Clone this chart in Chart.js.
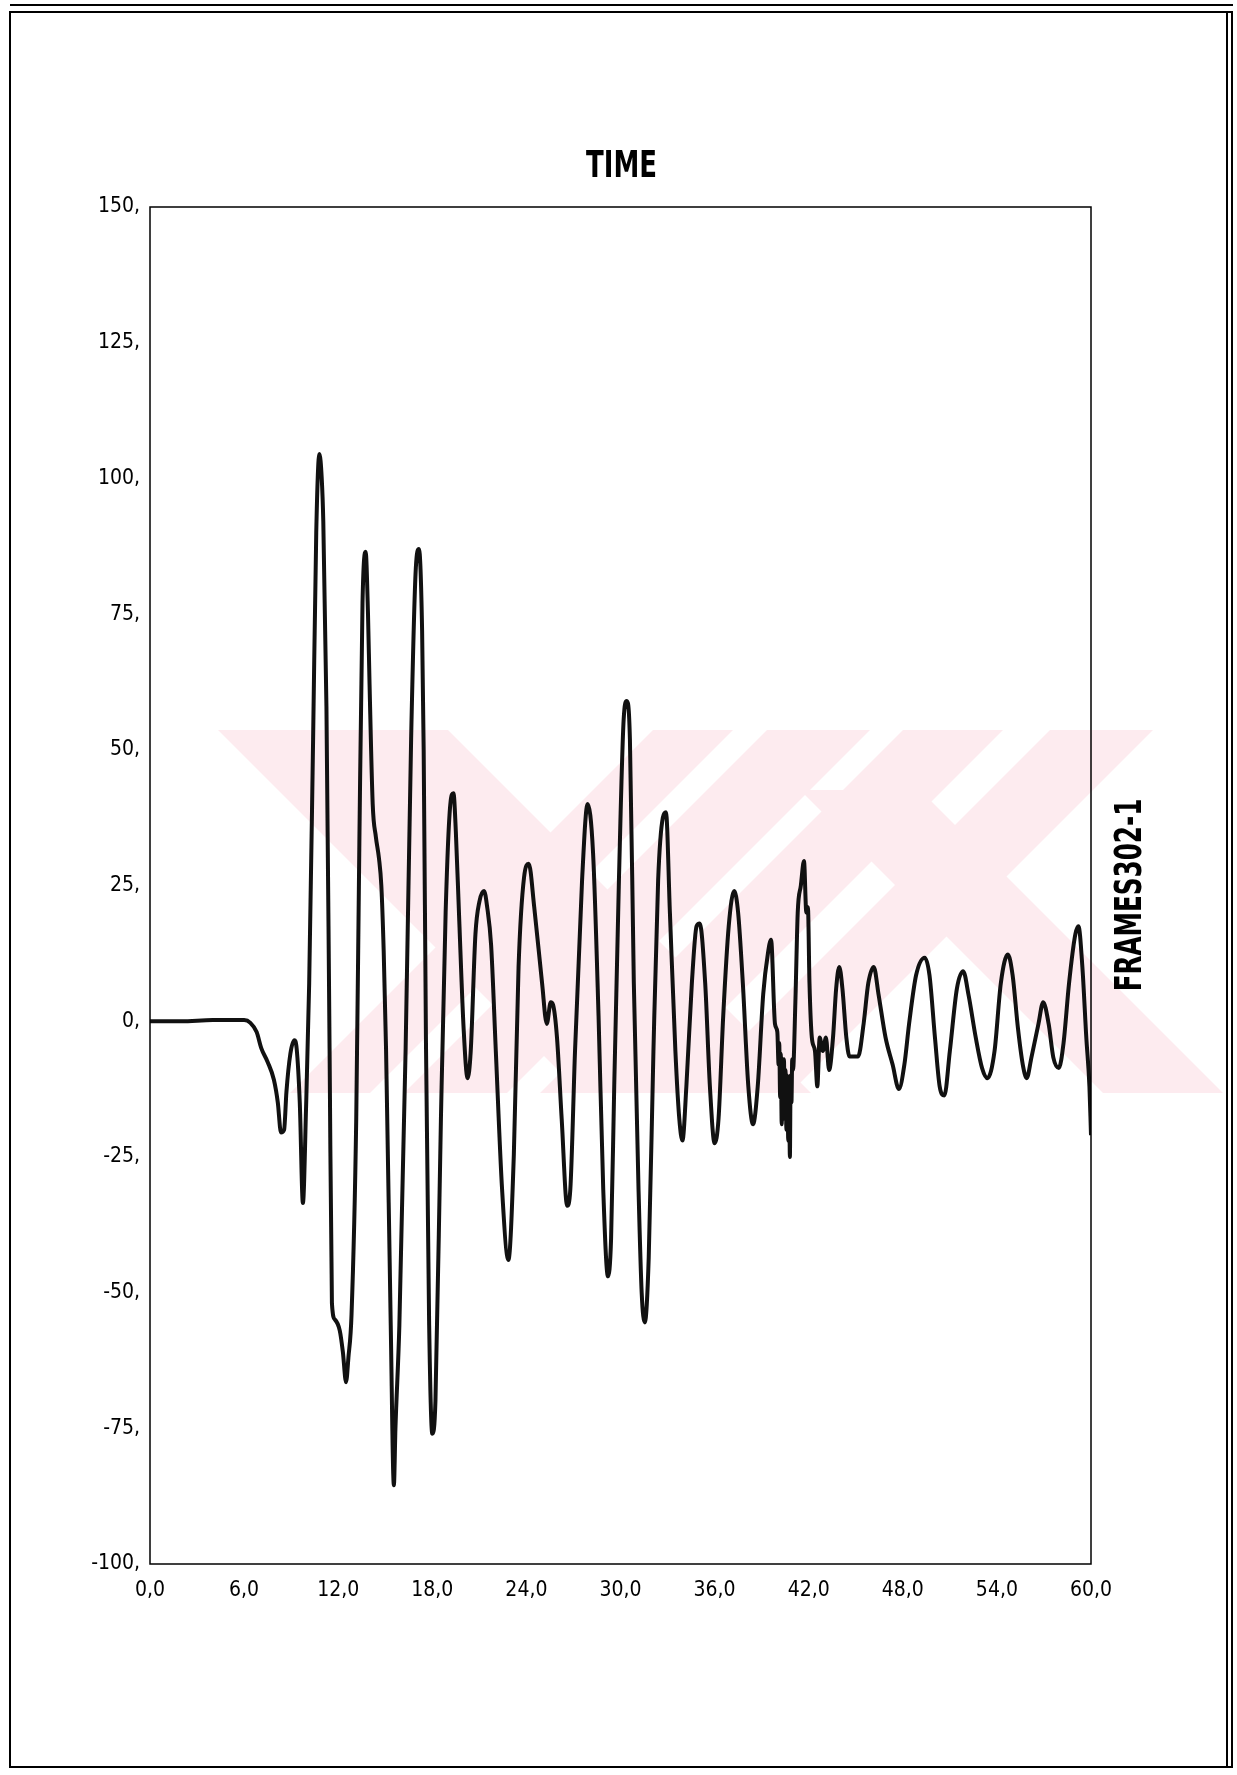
<!DOCTYPE html>
<html>
<head>
<meta charset="utf-8">
<script src="https://cdn.jsdelivr.net/npm/chart.js@4.4.0/dist/chart.umd.min.js"></script>
<style>
html,body{margin:0;padding:0;background:#fff;}
#wrap{position:relative;width:1237px;height:1775px;}
</style>
</head>
<body>
<div id="wrap"><canvas id="c"></canvas></div>
<script>
const chartTitle = 'TIME';
const seriesLabel = 'FRAMES302-1';

const timeValues = [
  0, 2, 4, 6.0, 6.4, 6.8, 7.1, 7.5, 7.9, 8.15,
  8.35, 8.55, 8.7, 8.95, 9.2, 9.35, 9.55, 9.75, 9.95, 10.15,
  10.4, 10.6, 10.8, 10.95, 11.05, 11.25, 11.45, 11.6, 11.8, 12.1,
  12.3, 12.5, 12.65, 12.85, 13.15, 13.35, 13.55, 13.75, 13.9, 14.0,
  14.2, 14.4, 14.6, 14.75, 14.9, 15.05, 15.35, 15.55, 15.65, 15.9,
  16.3, 16.65, 16.95, 17.15, 17.35, 17.45, 17.6, 17.8, 18.0, 18.2,
  18.55, 18.85, 19.15, 19.35, 19.5, 19.7, 20.0, 20.25, 20.45, 20.75,
  21.0, 21.3, 21.5, 21.75, 22.05, 22.45, 22.85, 23.2, 23.5, 23.85,
  24.15, 24.5, 25.0, 25.3, 25.55, 25.7, 25.95, 26.25, 26.6, 26.8,
  27.1, 27.55, 27.9, 28.25, 28.6, 28.9, 29.2, 29.4, 29.6, 29.9,
  30.2, 30.4, 30.6, 30.85, 31.15, 31.35, 31.55, 31.8, 32.1, 32.4,
  32.7, 32.9, 33.15, 33.5, 33.75, 33.95, 34.2, 34.55, 34.85, 35.05,
  35.4, 35.7, 36.0, 36.25, 36.55, 36.9, 37.25, 37.5, 37.8, 38.15,
  38.45, 38.75, 39.1, 39.4, 39.6, 39.85, 40.0, 40.08, 40.12, 40.18,
  40.22, 40.28, 40.32, 40.38, 40.42, 40.48, 40.52, 40.58, 40.62, 40.7,
  40.75, 40.8, 40.85, 40.9, 40.95, 41.0, 41.15, 41.3, 41.5, 41.7,
  41.85, 41.95, 42.05, 42.2, 42.4, 42.55, 42.7, 42.9, 43.1, 43.3,
  43.55, 43.75, 43.95, 44.15, 44.4, 44.6, 45.15, 45.5, 45.8, 46.15,
  46.45, 46.9, 47.35, 47.75, 48.1, 48.4, 48.85, 49.4, 49.7, 50.05,
  50.35, 50.65, 51.0, 51.45, 51.85, 52.2, 52.65, 53.05, 53.4, 53.85,
  54.25, 54.7, 55.0, 55.35, 55.65, 55.9, 56.2, 56.65, 56.95, 57.3,
  57.6, 57.95, 58.25, 58.6, 59.0, 59.2, 59.45, 59.7, 59.9, 60.0
];

const responseValues = [
  0, 0, 0.2, 0.2, -0.3, -2.0, -5.0, -7.5, -10.8, -15,
  -20.5, -20, -13, -6, -3.5, -5, -15, -33.5, -16, 7,
  52, 90, 104.5, 100, 92, 58, -5, -52, -55, -57,
  -61, -66.5, -62, -54, -18, 33, 77, 86.5, 75, 62,
  40, 34, 30, 25, 13, -5, -56, -85.5, -75, -56,
  -5, 52, 83.5, 87, 72, 50, -5, -56, -76, -70,
  -18, 20, 40, 42, 35, 20, -1.5, -10.5, -5.5, 16,
  22, 24, 21, 14, -5.5, -31, -44, -24.5, 10, 26.5,
  29, 21, 7, -0.5, 3.5, 3, -3, -18, -34, -31,
  -5.5, 26, 40, 31, 1, -31, -47, -40, -12, 26,
  55.5, 59, 52, 7, -31, -50, -55.5, -43.5, -5.5, 26,
  37.5, 38.5, 20, -5.5, -18, -22, -12, 7, 17.5, 18,
  7, -12, -22.5, -18, 1, 17.5, 24, 20, 7, -12,
  -19, -12, 5, 12.5, 15, -0.5, -2, -8, -4, -14,
  -6, -19, -8, -16, -7, -18, -9, -20, -10, -22,
  -12, -25, -10, -15, -7, -9, 3.5, 20, 25, 29.5,
  20, 21, 7, -3, -5.5, -12, -3, -5.5, -3, -9,
  -3, 6, 10, 6, -3, -6.5, -6.5, -0.5, 7, 10,
  5, -3, -8, -12.5, -8, -0.5, 8.5, 11.7, 8.5, -3,
  -12, -13.7, -5.5, 6, 9.2, 4.7, -3, -8.6, -10.5, -5.5,
  7, 12.3, 8.5, -1.5, -8, -10.5, -6.7, -0.5, 3.5, -0.5,
  -6.7, -8.6, -4, 7, 16, 17.5, 10, -3, -12, -21
];

const xTickValues = [0, 6, 12, 18, 24, 30, 36, 42, 48, 54, 60];
const xTickLabels = ['0,0', '6,0', '12,0', '18,0', '24,0', '30,0', '36,0', '42,0', '48,0', '54,0', '60,0'];
const yTickValues = [-100, -75, -50, -25, 0, 25, 50, 75, 100, 125, 150];
const yTickLabels = ['-100,', '-75,', '-50,', '-25,', '0,', '25,', '50,', '75,', '100,', '125,', '150,'];

const FONT = '"Liberation Sans Narrow", "DejaVu Sans Condensed", sans-serif';

const points = timeValues.map((t, i) => ({ x: t, y: responseValues[i] }));

const watermarkPlugin = {
  id: 'watermark',
  beforeDatasetsDraw(chart) {
    const ctx = chart.ctx;
    ctx.save();
    ctx.fillStyle = '#fdebef';
    const polys = [
      [[218, 730], [448, 730], [811, 1093], [581, 1093]],
      [[653, 730], [733, 730], [370, 1093], [290, 1093]],
      [[767, 730], [870, 730], [507, 1093], [404, 1093]],
      [[903, 730], [1003, 730], [640, 1093], [540, 1093]],
      [[1050, 730], [1153, 730], [790, 1093], [687, 1093]],
      [[800, 790], [920, 790], [1223, 1093], [1103, 1093]]
    ];
    polys.forEach(p => {
      ctx.beginPath();
      ctx.moveTo(p[0][0], p[0][1]);
      for (let i = 1; i < p.length; i++) ctx.lineTo(p[i][0], p[i][1]);
      ctx.closePath();
      ctx.fill();
    });
    ctx.restore();
  }
};

const framePlugin = {
  id: 'frame',
  afterDraw(chart) {
    const ctx = chart.ctx;
    const a = chart.chartArea;
    ctx.save();
    ctx.strokeStyle = '#000';
    ctx.lineWidth = 1.5;
    ctx.strokeRect(a.left, a.top, a.right - a.left, a.bottom - a.top);
    // page border
    ctx.lineWidth = 2;
    ctx.strokeRect(10, 12, 1222, 1755);
    ctx.beginPath();
    ctx.moveTo(10, 5); ctx.lineTo(1233, 5);
    ctx.moveTo(1227, 12); ctx.lineTo(1227, 1767);
    ctx.stroke();
    ctx.fillStyle = '#000';
    ctx.textAlign = 'center';
    ctx.textBaseline = 'middle';
    // title, condensed
    ctx.save();
    ctx.font = 'bold 38px ' + FONT;
    ctx.translate((a.left + a.right) / 2 + 1, 167);
    ctx.scale(0.76, 1);
    ctx.fillText(chartTitle, 0, 0);
    ctx.restore();
    // rotated series label, condensed
    ctx.save();
    ctx.font = 'bold 37px ' + FONT;
    ctx.translate(1131, 895);
    ctx.rotate(-Math.PI / 2);
    ctx.scale(0.74, 1);
    ctx.fillText(seriesLabel, 0, 0);
    ctx.restore();
    ctx.restore();
  }
};

new Chart(document.getElementById('c'), {
  type: 'line',
  data: {
    datasets: [{
      label: seriesLabel,
      data: points,
      borderColor: '#111',
      borderWidth: 4,
      pointRadius: 0,
      cubicInterpolationMode: 'monotone',
      fill: false
    }]
  },
  options: {
    responsive: true,
    maintainAspectRatio: false,
    animation: false,
    layout: { padding: { left: 0, right: 146, top: 207, bottom: 0 } },
    plugins: {
      legend: { display: false },
      tooltip: { enabled: false },
      title: { display: false, text: chartTitle }
    },
    scales: {
      x: {
        type: 'linear',
        min: 0,
        max: 60,
        afterBuildTicks: s => { s.ticks = xTickValues.map(v => ({ value: v })); },
        afterFit: s => { s.height = 211; },
        grid: { display: false, drawTicks: false },
        border: { display: false },
        ticks: {
          autoSkip: false,
          maxRotation: 0,
          padding: 14,
          color: '#000',
          font: { family: FONT, size: 21 },
          callback: (v, i) => xTickLabels[i]
        }
      },
      y: {
        min: -100,
        max: 150,
        afterBuildTicks: s => { s.ticks = yTickValues.map(v => ({ value: v })); },
        afterFit: s => { s.width = 150; },
        grid: { display: false, drawTicks: false },
        border: { display: false },
        ticks: {
          padding: 10,
          color: '#000',
          font: { family: FONT, size: 21 },
          callback: (v, i) => yTickLabels[i]
        }
      }
    }
  },
  plugins: [watermarkPlugin, framePlugin]
});
</script>
</body>
</html>
